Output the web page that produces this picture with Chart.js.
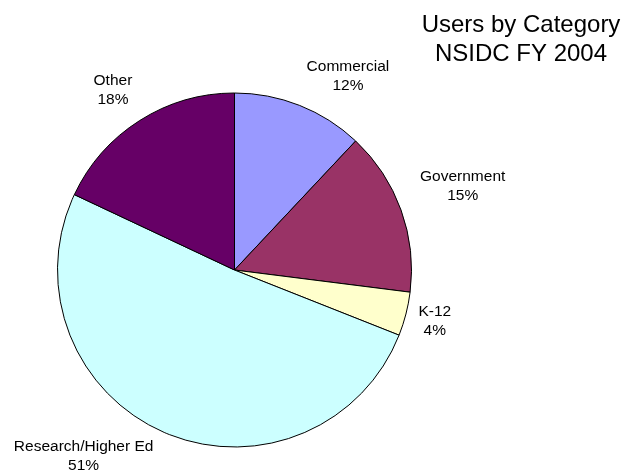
<!DOCTYPE html>
<html>
<head>
<meta charset="utf-8">
<script src="https://cdn.jsdelivr.net/npm/chart.js@4/dist/chart.umd.min.js"></script>
<style>
  html, body { margin: 0; padding: 0; background: #fff; }
  #wrap { width: 623px; height: 474px; position: relative; }
</style>
</head>
<body>
<div id="wrap"><canvas id="usersChart"></canvas></div>
<script>
// Users by category, NSIDC FY 2004
const categories = ['Commercial', 'Government', 'K-12', 'Research/Higher Ed', 'Other'];
const shares = [12, 15, 4, 51, 18];
const sliceColors = ['#9999ff', '#993366', '#ffffcc', '#ccffff', '#660066'];
const titleLines = ['Users by Category', 'NSIDC FY 2004'];

// small nudges for the outside labels (px), relative to 1.25 x radius
const labelNudge = [[32, 12], [20, -9], [-14, -4], [-63, -17], [-3, 7]];

const FONT = '"Liberation Sans", Arial, Helvetica, sans-serif';

const outsideLabels = {
  id: 'outsideLabels',
  afterDatasetsDraw(chart) {
    const ctx = chart.ctx;
    const arcs = chart.getDatasetMeta(0).data;
    ctx.save();
    ctx.fillStyle = '#000';
    ctx.textAlign = 'center';
    ctx.textBaseline = 'middle';
    ctx.font = '15.5px ' + FONT;
    arcs.forEach((arc, i) => {
      const mid = (arc.startAngle + arc.endAngle) / 2;
      const d = arc.outerRadius * 1.25;
      const x = arc.x + Math.cos(mid) * d + labelNudge[i][0];
      const y = arc.y + Math.sin(mid) * d + labelNudge[i][1];
      ctx.fillText(categories[i], x, y - 9.5);
      ctx.fillText(shares[i] + '%', x, y + 9.5);
    });
    // title block in the upper right
    ctx.font = '24px ' + FONT;
    ctx.textBaseline = 'alphabetic';
    ctx.fillText(titleLines[0], 521, 32);
    ctx.fillText(titleLines[1], 521, 61);
    ctx.restore();
  }
};

new Chart(document.getElementById('usersChart'), {
  type: 'pie',
  data: {
    labels: categories,
    datasets: [{
      data: shares,
      backgroundColor: sliceColors,
      borderColor: '#000',
      borderWidth: 1
    }]
  },
  options: {
    responsive: true,
    maintainAspectRatio: false,
    animation: false,
    layout: { padding: { left: 57, right: 211, top: 92, bottom: 26 } },
    plugins: {
      legend: { display: false },
      tooltip: { enabled: false }
    }
  },
  plugins: [outsideLabels]
});
</script>
</body>
</html>
